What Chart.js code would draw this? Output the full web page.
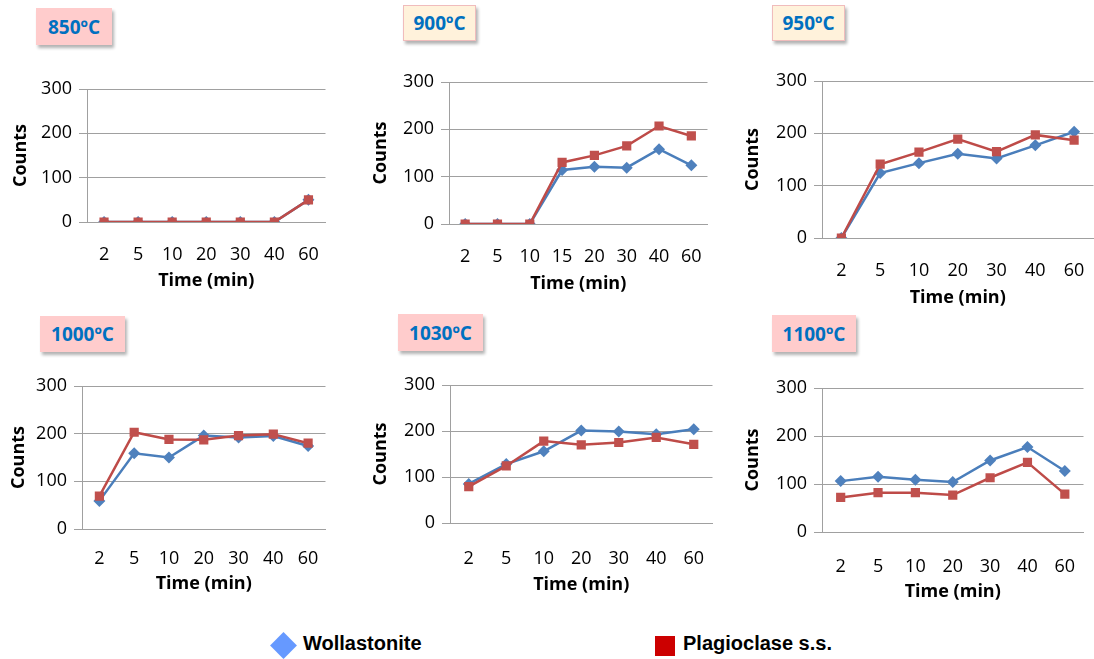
<!DOCTYPE html>
<html>
<head>
<meta charset="utf-8">
<script src="https://cdn.jsdelivr.net/npm/chart.js@4/dist/chart.umd.min.js"></script>
<style>
  body { margin: 0; width: 1094px; height: 659px; overflow: hidden; background: #fff; position: relative; font-family: 'Open Sans', sans-serif; }
  canvas { position: absolute; }
  .tag { position: absolute; box-sizing: border-box; color: #0070C0; font: bold 19px 'Open Sans', sans-serif;
         display: flex; align-items: center; justify-content: center; box-shadow: 2px 3px 3px rgba(0,0,0,0.3); }
  .pink { background: #FFCCCC; }
  .cream { background: #FFF2DB; border: 1px solid #F0BCBC; }
  .legend { position: absolute; font: bold 20px 'Liberation Sans', Arial, sans-serif; color: #000; }
</style>
</head>
<body>
<div class="legend" style="left:269px;top:631px;width:28px;height:28px;">
  <div style="width:19px;height:19px;background:#6699FF;transform:rotate(45deg);margin:4.5px;"></div>
</div>
<div class="legend" style="left:303px;top:632px;">Wollastonite</div>
<div class="legend" style="left:655px;top:636px;width:20px;height:20px;background:#CC0000;"></div>
<div class="legend" style="left:683px;top:632px;">Plagioclase s.s.</div>

<script>
// categories
const times7 = ['2', '5', '10', '20', '30', '40', '60'];
const times8 = ['2', '5', '10', '15', '20', '30', '40', '60'];
const temps = ['850ºC', '900ºC', '950ºC', '1000ºC', '1030ºC', '1100ºC'];
const yTicks = [0, 100, 200, 300];

// series values (counts)
const wollastonite850 = [0, 0, 0, 0, 0, 0, 50];
const plagioclase850 = [0, 0, 0, 0, 0, 0, 50];
const wollastonite900 = [0, 0, 0, 114, 121, 119, 158, 124];
const plagioclase900 = [0, 0, 0, 130, 145, 165, 207, 186];
const wollastonite950 = [0, 124, 143, 161, 152, 177, 203];
const plagioclase950 = [0, 141, 164, 189, 165, 197, 187];
const wollastonite1000 = [59, 159, 150, 196, 192, 195, 174];
const plagioclase1000 = [69, 203, 188, 187, 196, 199, 180];
const wollastonite1030 = [85, 128, 156, 201, 199, 193, 204];
const plagioclase1030 = [79, 124, 178, 170, 175, 186, 171];
const wollastonite1100 = [106, 115, 109, 104, 149, 177, 127];
const plagioclase1100 = [72, 82, 82, 77, 113, 145, 79];

const panels = [
  { labels: times7, w: wollastonite850, p: plagioclase850 },
  { labels: times8, w: wollastonite900, p: plagioclase900 },
  { labels: times7, w: wollastonite950, p: plagioclase950 },
  { labels: times7, w: wollastonite1000, p: plagioclase1000 },
  { labels: times7, w: wollastonite1030, p: plagioclase1030 },
  { labels: times7, w: wollastonite1100, p: plagioclase1100 }
];

// layout: plot area edges, y axis width, x axis height, tick gap, title box
const boxes = [
  { L: 87,  R: 330,  T: 89,  B: 222, yw: 81, xh: 74, tp: 22, tag: [36, 8, 76, 37, 'pink'] },
  { L: 449, R: 712,  T: 82,  B: 224, yw: 83, xh: 75, tp: 22, tag: [403, 5, 73, 36, 'cream'] },
  { L: 822, R: 1098, T: 81,  B: 238, yw: 84, xh: 75, tp: 22, tag: [772, 5, 73, 36, 'cream'] },
  { L: 82,  R: 330,  T: 386, B: 529, yw: 78, xh: 70, tp: 19, tag: [40, 316, 85, 36, 'pink'] },
  { L: 450, R: 717,  T: 385, B: 523, yw: 84, xh: 77, tp: 25, tag: [398, 314, 85, 37, 'pink'] },
  { L: 822, R: 1088, T: 388, B: 532, yw: 84, xh: 75, tp: 24, tag: [772, 315, 84, 37, 'pink'] }
];

const gridGray = '#A0A0A0';
const tickFont = { family: "'Open Sans', sans-serif", size: 18 };
const titleFont = { family: "'Open Sans', sans-serif", size: 18, weight: 'bold' };

panels.forEach(function (panel, i) {
  const b = boxes[i];
  const padTop = 14, padRight = 2;

  const tag = document.createElement('div');
  tag.className = 'tag ' + b.tag[4];
  tag.style.left = b.tag[0] + 'px';
  tag.style.top = b.tag[1] + 'px';
  tag.style.width = b.tag[2] + 'px';
  tag.style.height = b.tag[3] + 'px';
  tag.textContent = temps[i];
  document.body.appendChild(tag);

  const canvas = document.createElement('canvas');
  const w = b.R - b.L + b.yw + padRight;
  const h = b.B - b.T + padTop + b.xh;
  canvas.width = w;
  canvas.height = h;
  canvas.style.left = (b.L - b.yw) + 'px';
  canvas.style.top = (b.T - padTop) + 'px';
  canvas.style.width = w + 'px';
  canvas.style.height = h + 'px';
  document.body.appendChild(canvas);

  new Chart(canvas.getContext('2d'), {
    type: 'line',
    data: {
      labels: panel.labels,
      datasets: [{
        label: 'Wollastonite',
        data: panel.w,
        borderColor: '#4A7EBB',
        backgroundColor: '#4F81BD',
        borderWidth: 2.5,
        pointStyle: 'rectRot',
        pointRadius: 6,
        pointBorderWidth: 0,
        tension: 0,
        order: 1
      }, {
        label: 'Plagioclase s.s.',
        data: panel.p,
        borderColor: '#BE4B48',
        backgroundColor: '#C0504D',
        borderWidth: 2.5,
        pointStyle: 'rect',
        pointRadius: 6.5,
        pointBorderWidth: 0,
        tension: 0,
        order: 0
      }]
    },
    options: {
      responsive: false,
      animation: false,
      devicePixelRatio: 1,
      layout: { padding: { top: padTop, right: padRight, left: 0, bottom: 0 } },
      plugins: { legend: { display: false }, tooltip: { enabled: false } },
      scales: {
        x: {
          offset: true,
          grid: { display: false, drawTicks: false },
          border: { display: true, color: gridGray, width: 1 },
          ticks: { color: '#000', font: tickFont, padding: b.tp, maxRotation: 0, autoSkip: false },
          title: { display: true, text: 'Time (min)', color: '#000', font: titleFont, padding: { top: 4, bottom: 4 } },
          afterFit: function (scale) {
            scale.height = b.xh;
            scale.paddingLeft = 0;
            scale.paddingRight = 0;
          }
        },
        y: {
          min: 0,
          max: 300,
          afterBuildTicks: function (scale) { scale.ticks = yTicks.map(function (v) { return { value: v }; }); },
          grid: { color: gridGray, lineWidth: 1, tickLength: 8 },
          border: { display: true, color: gridGray, width: 1 },
          ticks: { color: '#000', font: tickFont, padding: 7 },
          title: { display: true, text: 'Counts', color: '#000', font: titleFont, padding: { top: 4, bottom: 4 } },
          afterFit: function (scale) {
            scale.width = b.yw;
            scale.paddingTop = 0;
            scale.paddingBottom = 0;
          }
        }
      }
    }
  });
});
</script>
</body>
</html>
